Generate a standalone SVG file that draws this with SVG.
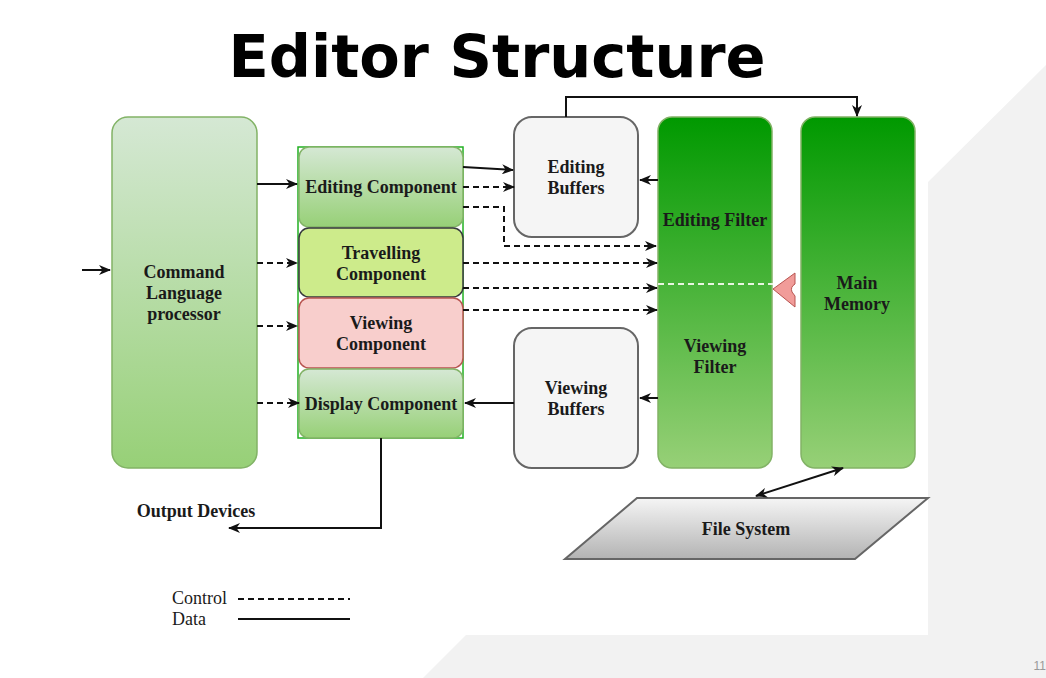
<svg xmlns="http://www.w3.org/2000/svg" width="1046" height="678" viewBox="0 0 1046 678">
<defs>
<linearGradient id="gLight" x1="0" y1="0" x2="0" y2="1"><stop offset="0" stop-color="#d5e8d4"/><stop offset="1" stop-color="#97d077"/></linearGradient>
<linearGradient id="gDark" x1="0" y1="0" x2="0" y2="1"><stop offset="0" stop-color="#009900"/><stop offset="1" stop-color="#97d077"/></linearGradient>
<linearGradient id="gGray" x1="0" y1="0" x2="0" y2="1"><stop offset="0" stop-color="#f5f5f5"/><stop offset="1" stop-color="#b3b3b3"/></linearGradient>
<marker id="arr" viewBox="0 0 12 10" refX="11" refY="5" markerWidth="12" markerHeight="10" markerUnits="userSpaceOnUse" orient="auto-start-reverse"><path d="M0,0 L12,5 L0,10 L3.5,5 Z" fill="#111"/></marker>
</defs>
<style>
.lbl{font-family:"Liberation Serif","Times New Roman",serif;font-weight:bold;font-size:18px;fill:#1a1a1a;text-anchor:middle}
.reg{font-family:"Liberation Serif","Times New Roman",serif;font-size:18px;fill:#1a1a1a}
.solid{fill:none;stroke:#111;stroke-width:2}
.dash{fill:none;stroke:#111;stroke-width:2;stroke-dasharray:6 4}
.light{fill:url(#gLight);stroke:#82b366;stroke-width:1.5}
.dark{fill:url(#gDark);stroke:#82b366;stroke-width:1.5}
.buf{fill:#f5f5f5;stroke:#666;stroke-width:2}
</style>
<rect width="1046" height="678" fill="#fff"/>
<polygon points="1046,65 928,182 928,635 466,635 423,678 1046,678" fill="#f2f2f2"/>
<text x="1046" y="670" font-family="Liberation Sans, Arial, sans-serif" font-size="12" fill="#999" text-anchor="end">11</text>
<text x="497" y="77" font-family="DejaVu Sans, sans-serif" font-weight="bold" font-size="59" fill="#000" text-anchor="middle">Editor Structure</text>

<g id="clp"><rect x="112" y="117" width="145" height="351" rx="16" class="light"/>
<text class="lbl" x="184" y="278">Command</text><text class="lbl" x="184" y="299">Language</text><text class="lbl" x="184" y="320">processor</text></g>

<g id="stack"><rect x="298" y="147" width="165" height="291" fill="none" stroke="#22b022" stroke-width="1.5"/></g>
<g id="editing-component"><rect x="299" y="147" width="164" height="80" rx="10" class="light"/><text class="lbl" x="381" y="193">Editing Component</text></g>
<g id="travelling-component"><rect x="299" y="228" width="164" height="69" rx="10" fill="#cdeb8b" stroke="#36393d" stroke-width="1.5"/><text class="lbl" x="381" y="259">Travelling</text><text class="lbl" x="381" y="280">Component</text></g>
<g id="viewing-component"><rect x="299" y="298" width="164" height="70" rx="10" fill="#f8cecc" stroke="#b85450" stroke-width="1.5"/><text class="lbl" x="381" y="329">Viewing</text><text class="lbl" x="381" y="350">Component</text></g>
<g id="display-component"><rect x="299" y="369" width="164" height="69" rx="10" class="light"/><text class="lbl" x="381" y="410">Display Component</text></g>

<g id="editing-buffers"><rect x="514" y="117" width="124" height="120" rx="18" class="buf"/><text class="lbl" x="576" y="173">Editing</text><text class="lbl" x="576" y="194">Buffers</text></g>
<g id="viewing-buffers"><rect x="514" y="328" width="124" height="140" rx="18" class="buf"/><text class="lbl" x="576" y="394">Viewing</text><text class="lbl" x="576" y="415">Buffers</text></g>
<g id="filter"><rect x="658" y="117" width="114" height="351" rx="14" class="dark"/><text class="lbl" x="715" y="226">Editing Filter</text><text class="lbl" x="715" y="352">Viewing</text><text class="lbl" x="715" y="373">Filter</text></g>
<g id="main-memory"><rect x="801" y="117" width="114" height="351" rx="14" class="dark"/><text class="lbl" x="857" y="289">Main</text><text class="lbl" x="857" y="310">Memory</text></g>
<g id="file-system"><polygon points="637,498 928,498 855,559 565,559" fill="url(#gGray)" stroke="#666" stroke-width="2"/><text class="lbl" x="746" y="535">File System</text></g>
<g id="output-devices"><text class="lbl" x="196" y="517">Output Devices</text></g>

<g id="connectors">
<line x1="82" y1="270" x2="110" y2="270" class="solid" marker-end="url(#arr)"/>
<line x1="257" y1="184" x2="297" y2="184" class="solid" marker-end="url(#arr)"/>
<line x1="257" y1="263" x2="297" y2="263" class="dash" marker-end="url(#arr)"/>
<line x1="257" y1="326" x2="297" y2="326" class="dash" marker-end="url(#arr)"/>
<line x1="257" y1="403" x2="299" y2="403" class="dash" marker-end="url(#arr)"/>
<line x1="463" y1="167" x2="513" y2="170" class="solid" marker-end="url(#arr)"/>
<line x1="463" y1="187" x2="514" y2="187" class="dash" marker-end="url(#arr)"/>
<polyline points="463,207 504,207 504,246 656,246" class="dash" marker-end="url(#arr)"/>
<line x1="463" y1="263" x2="657" y2="263" class="dash" marker-end="url(#arr)"/>
<line x1="463" y1="288" x2="657" y2="288" class="dash" marker-end="url(#arr)"/>
<line x1="463" y1="310" x2="657" y2="310" class="dash" marker-end="url(#arr)"/>
<line x1="658" y1="180" x2="640" y2="180" class="solid" marker-end="url(#arr)"/>
<line x1="658" y1="398" x2="640" y2="398" class="solid" marker-end="url(#arr)"/>
<line x1="514" y1="403" x2="465" y2="403" class="solid" marker-end="url(#arr)"/>
<polyline points="566,117 566,97 857,97 857,116" class="solid" marker-end="url(#arr)"/>
<line x1="658" y1="284" x2="773" y2="284" fill="none" stroke="#e8f5e0" stroke-width="2" stroke-dasharray="6 4"/>
<path d="M773,289 L795,273 L795,284 Q790,287 792,292 L795,296 L795,307 Z" fill="#f19c99" stroke="#b85450" stroke-width="1"/>
<polyline points="381,438 381,528 229,528" class="solid" marker-end="url(#arr)"/>
<line x1="756" y1="496" x2="843" y2="468" class="solid" stroke-width="1.8" marker-start="url(#arr)" marker-end="url(#arr)"/>
</g>

<g id="legend">
<text class="reg" x="172" y="604">Control</text>
<line x1="238" y1="599" x2="350" y2="599" class="dash"/>
<text class="reg" x="172" y="625">Data</text>
<line x1="238" y1="619" x2="350" y2="619" class="solid"/>
</g>
</svg>
